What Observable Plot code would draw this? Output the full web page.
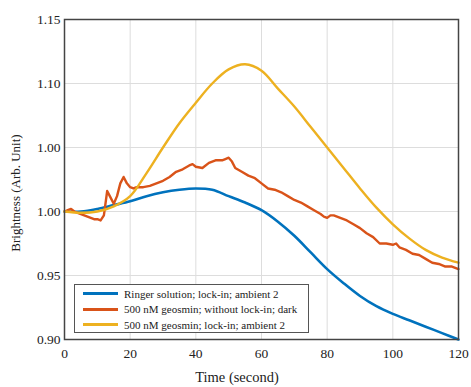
<!DOCTYPE html>
<html>
<head>
<meta charset="utf-8">
<script src="https://cdn.jsdelivr.net/npm/d3@7"></script>
<script src="https://cdn.jsdelivr.net/npm/@observablehq/plot@0.6"></script>
<style>
  html, body { margin: 0; padding: 0; background: #fff; }
  #wrap { position: relative; width: 471px; height: 387px; }
  #legend {
    position: absolute; left: 74px; top: 284px; width: 235px; height: 49px;
    border: 1px solid #555; background: #fff; box-sizing: border-box;
    font-family: "Liberation Serif", serif; font-size: 11px; color: #222;
    padding-top: 1px; white-space: nowrap;
  }
  #legend .row { display: flex; align-items: center; height: 15.5px; }
  #legend .sw { width: 35px; height: 3px; margin-left: 8px; margin-right: 6px; flex: none; }
</style>
</head>
<body>
<div id="wrap"><div id="chart"></div><div id="legend"></div></div>
<script>
const seriesNames = [
  "Ringer solution; lock-in; ambient 2",
  "500 nM geosmin; without lock-in; dark",
  "500 nM geosmin; lock-in; ambient 2"
];
const seriesColors = ["#0072BD", "#D95319", "#EDB120"];

const xTicks = [0, 20, 40, 60, 80, 100, 120];
const yTicks = [0.90, 0.95, 1.00, 1.05, 1.10, 1.15];
const yTickLabels = ["0.90", "0.95", "1.00", "1.00", "1.10", "1.15"];

const ringerTime = [0, 5, 10, 15, 20, 25, 30, 35, 40, 45, 50, 55, 60, 65, 70, 75, 80, 85, 90, 95, 100, 105, 110, 115, 120];
const ringerValue = [1.000, 1.000, 1.002, 1.005, 1.008, 1.012, 1.015, 1.017, 1.018, 1.017, 1.012, 1.007, 1.001, 0.992, 0.981, 0.968, 0.955, 0.944, 0.934, 0.926, 0.920, 0.915, 0.910, 0.905, 0.900];

const geoDarkTime = [0, 1, 2, 3, 4, 5, 6, 7, 8, 9, 10, 11, 12, 13, 14, 15, 16, 17, 18, 19, 20, 21, 22, 24, 26, 28, 30, 32, 34, 36, 38, 39, 40, 42, 44, 46, 48, 49, 50, 51, 52, 54, 56, 58, 60, 62, 64, 66, 68, 70, 72, 74, 76, 78, 79, 80, 81, 82, 84, 86, 88, 90, 92, 94, 96, 98, 100, 101, 102, 104, 106, 108, 110, 112, 114, 116, 118, 120];
const geoDarkValue = [1.000, 1.001, 1.002, 1.000, 0.999, 0.998, 0.997, 0.996, 0.995, 0.994, 0.994, 0.993, 0.997, 1.016, 1.011, 1.006, 1.012, 1.022, 1.027, 1.022, 1.019, 1.018, 1.019, 1.019, 1.020, 1.022, 1.024, 1.027, 1.031, 1.033, 1.036, 1.037, 1.035, 1.034, 1.038, 1.040, 1.040, 1.041, 1.042, 1.039, 1.034, 1.031, 1.028, 1.026, 1.022, 1.018, 1.017, 1.015, 1.012, 1.009, 1.007, 1.004, 1.001, 0.998, 0.996, 0.995, 0.997, 0.997, 0.995, 0.993, 0.990, 0.987, 0.983, 0.980, 0.975, 0.975, 0.974, 0.975, 0.972, 0.970, 0.967, 0.966, 0.963, 0.960, 0.959, 0.957, 0.957, 0.955];

const geoLockTime = [0, 5, 10, 15, 20, 25, 30, 35, 40, 45, 50, 55, 60, 65, 70, 75, 80, 85, 90, 95, 100, 105, 110, 115, 120];
const geoLockValue = [1.000, 0.999, 1.000, 1.004, 1.012, 1.030, 1.050, 1.069, 1.085, 1.100, 1.111, 1.115, 1.110, 1.096, 1.082, 1.066, 1.050, 1.034, 1.018, 1.003, 0.990, 0.979, 0.970, 0.964, 0.960];

function rows(ts, vs, s) { return ts.map((t, i) => ({t, v: vs[i], s})); }
const ringer = rows(ringerTime, ringerValue, seriesNames[0]);
const geoDark = rows(geoDarkTime, geoDarkValue, seriesNames[1]);
const geoLock = rows(geoLockTime, geoLockValue, seriesNames[2]);

const chart = Plot.plot({
  width: 471,
  height: 387,
  marginLeft: 64,
  marginRight: 13,
  marginTop: 19,
  marginBottom: 48,
  style: {fontFamily: "'Liberation Serif', serif", fontSize: "13.5px", color: "#222", background: "#fff"},
  x: {domain: [0, 120], ticks: xTicks, label: null},
  y: {domain: [0.90, 1.15], ticks: yTicks, label: null},
  color: {domain: seriesNames, range: seriesColors},
  marks: [
    Plot.gridX(xTicks, {stroke: "#ddd", strokeOpacity: 1}),
    Plot.gridY(yTicks, {stroke: "#ddd", strokeOpacity: 1}),
    Plot.axisX(xTicks, {tickSize: 0, tickPadding: 9, tickFormat: d => String(d), label: null}),
    Plot.axisY(yTicks, {tickSize: 0, tickPadding: 4, tickFormat: (d, i) => yTickLabels[i], label: null}),
    Plot.line(ringer, {x: "t", y: "v", stroke: "s", strokeWidth: 2.6, curve: "catmull-rom"}),
    Plot.line(geoDark, {x: "t", y: "v", stroke: "s", strokeWidth: 2.4, curve: "linear"}),
    Plot.line(geoLock, {x: "t", y: "v", stroke: "s", strokeWidth: 2.4, curve: "catmull-rom"}),
    Plot.frame({stroke: "#444", strokeWidth: 1.5})
  ]
});
document.getElementById("chart").appendChild(chart);

const svg = d3.select(chart);
svg.append("text")
  .attr("x", 237).attr("y", 382)
  .attr("text-anchor", "middle")
  .attr("font-family", "'Liberation Serif', serif").attr("font-size", "14.5px").attr("fill", "#222")
  .text("Time (second)");
svg.append("text")
  .attr("transform", "translate(20,193) rotate(-90)")
  .attr("text-anchor", "middle")
  .attr("font-family", "'Liberation Serif', serif").attr("font-size", "13px").attr("fill", "#222")
  .text("Brightness (Arb. Unit)");

const legend = document.getElementById("legend");
seriesNames.forEach((n, i) => {
  const row = document.createElement("div");
  row.className = "row";
  const sw = document.createElement("div");
  sw.className = "sw";
  sw.style.background = seriesColors[i];
  const tx = document.createElement("span");
  tx.textContent = n;
  row.appendChild(sw); row.appendChild(tx);
  legend.appendChild(row);
});
</script>
</body>
</html>
